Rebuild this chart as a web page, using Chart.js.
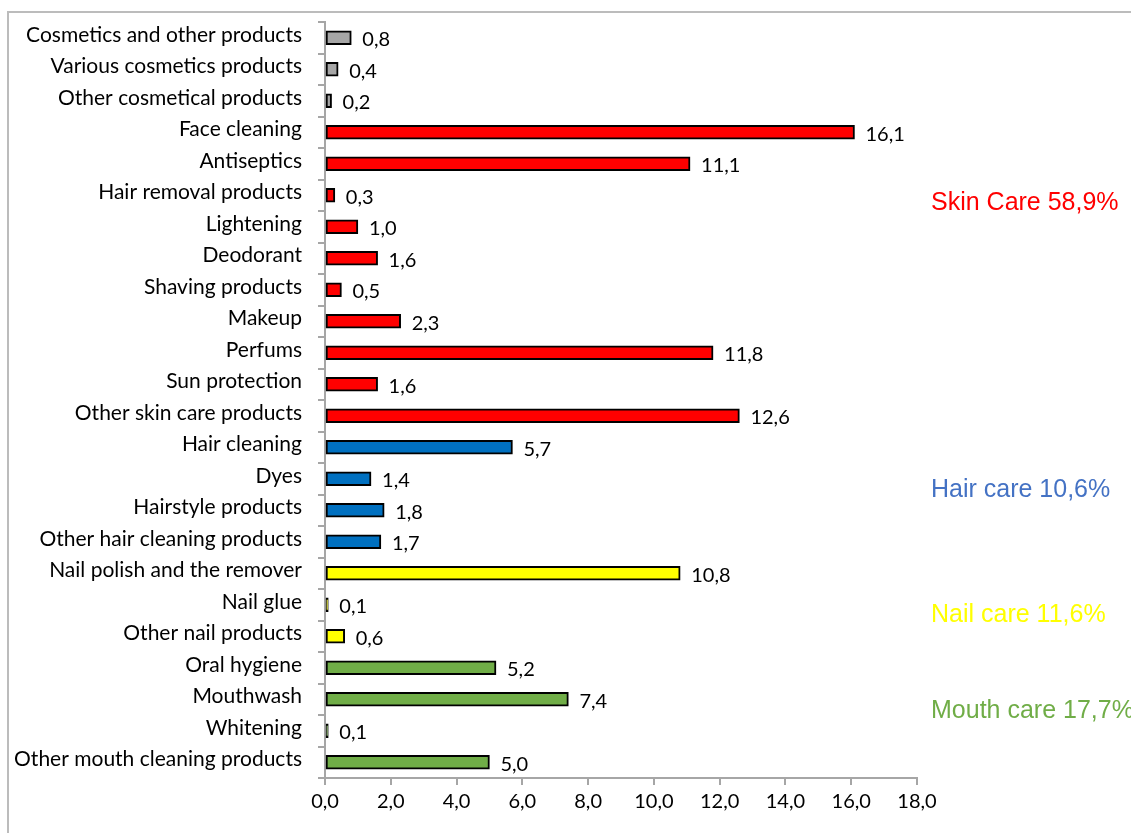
<!DOCTYPE html>
<html>
<head>
<meta charset="utf-8">
<script src="https://cdn.jsdelivr.net/npm/chart.js@4.4.1/dist/chart.umd.min.js"></script>
<style>
  html, body { margin: 0; padding: 0; background: #fff; overflow: hidden; width: 1131px; height: 833px; }
  #frame { position: absolute; left: 7px; top: 11px; width: 1300px; height: 1000px; border: 2px solid #bcbcbc; box-sizing: border-box; }
  #c { position: absolute; left: 0; top: 0; }
</style>
</head>
<body>
<div id="frame"></div>
<canvas id="c" width="1131" height="833"></canvas>
<script>
const categories = [
  "Cosmetics and other products",
  "Various cosmetics products",
  "Other cosmetical products",
  "Face cleaning",
  "Antiseptics",
  "Hair removal products",
  "Lightening",
  "Deodorant",
  "Shaving products",
  "Makeup",
  "Perfums",
  "Sun protection",
  "Other skin care products",
  "Hair cleaning",
  "Dyes",
  "Hairstyle products",
  "Other hair cleaning products",
  "Nail polish and the remover",
  "Nail glue",
  "Other nail products",
  "Oral hygiene",
  "Mouthwash",
  "Whitening",
  "Other mouth cleaning products"
];
const values = [0.8, 0.4, 0.2, 16.1, 11.1, 0.3, 1.0, 1.6, 0.5, 2.3, 11.8, 1.6, 12.6, 5.7, 1.4, 1.8, 1.7, 10.8, 0.1, 0.6, 5.2, 7.4, 0.1, 5.0];
const categoryGroups = ["other","other","other","skin","skin","skin","skin","skin","skin","skin","skin","skin","skin","hair","hair","hair","hair","nail","nail","nail","mouth","mouth","mouth","mouth"];
const groupLabels = ["Skin Care 58,9%", "Hair care 10,6%", "Nail care 11,6%", "Mouth care 17,7%"];
const groupLabelKeys = ["skin", "hair", "nail", "mouth"];
const xTicks = [0, 2, 4, 6, 8, 10, 12, 14, 16, 18];

// styles
const barColors = { other: "#A6A6A6", skin: "#FF0000", hair: "#0070C0", nail: "#FFFF00", mouth: "#70AD47" };
const groupTextColors = { skin: "#FF0000", hair: "#4472C4", nail: "#FFFF00", mouth: "#70AD47" };
const groupLabelPos = { skin: 5.25, hair: 14.36, nail: 18.33, mouth: 21.38 };

const fmt = v => v.toFixed(1).replace('.', ',');
const LABEL_FONT = "Lato, 'Open Sans', sans-serif";

const valueLabels = {
  id: 'valueLabels',
  afterDatasetsDraw(chart) {
    const ctx = chart.ctx;
    const meta = chart.getDatasetMeta(0);
    ctx.save();
    ctx.font = "20px " + LABEL_FONT;
    ctx.fillStyle = "#000";
    ctx.textAlign = "left";
    ctx.textBaseline = "middle";
    meta.data.forEach((bar, i) => {
      ctx.fillText(fmt(values[i]), bar.x + 11, bar.y + 2);
    });
    const yScale = chart.scales.y;
    ctx.font = "25px 'Liberation Sans', Arial, sans-serif";
    groupLabelKeys.forEach((k, i) => {
      ctx.fillStyle = groupTextColors[k];
      ctx.fillText(groupLabels[i], 931, yScale.getPixelForValue(groupLabelPos[k]));
    });
    ctx.restore();
  }
};

new Chart(document.getElementById('c'), {
  type: 'bar',
  data: {
    labels: categories,
    datasets: [{
      data: values,
      backgroundColor: categoryGroups.map(g => barColors[g]),
      borderColor: "#000",
      borderWidth: 2,
      borderSkipped: false,
      barThickness: 14
    }]
  },
  options: {
    indexAxis: 'y',
    responsive: false,
    animation: false,
    layout: { padding: { left: 0, right: 214, top: 22, bottom: 0 } },
    plugins: { legend: { display: false }, tooltip: { enabled: false } },
    scales: {
      x: {
        min: 0, max: 18,
        afterBuildTicks(scale) { scale.ticks = xTicks.map(v => ({ value: v })); },
        ticks: {
          callback: v => fmt(v),
          color: "#000",
          font: { family: LABEL_FONT, size: 20 },
          padding: 5,
          maxRotation: 0
        },
        grid: { drawOnChartArea: false, drawTicks: true, tickLength: 7, color: "#A6A6A6", lineWidth: 2 },
        border: { color: "#A6A6A6", width: 2 },
        afterFit(scale) { scale.height = 55; scale.paddingLeft = 0; scale.paddingRight = 0; }
      },
      y: {
        ticks: {
          color: "#000",
          font: { family: LABEL_FONT, size: 21 },
          padding: 16,
          labelOffset: -3,
          autoSkip: false
        },
        grid: { drawOnChartArea: false, drawTicks: true, tickLength: 7, color: "#A6A6A6", lineWidth: 2, offset: true },
        border: { color: "#A6A6A6", width: 2 },
        afterFit(scale) { scale.width = 325; scale.paddingTop = 0; scale.paddingBottom = 0; }
      }
    }
  },
  plugins: [valueLabels]
});
</script>
</body>
</html>
